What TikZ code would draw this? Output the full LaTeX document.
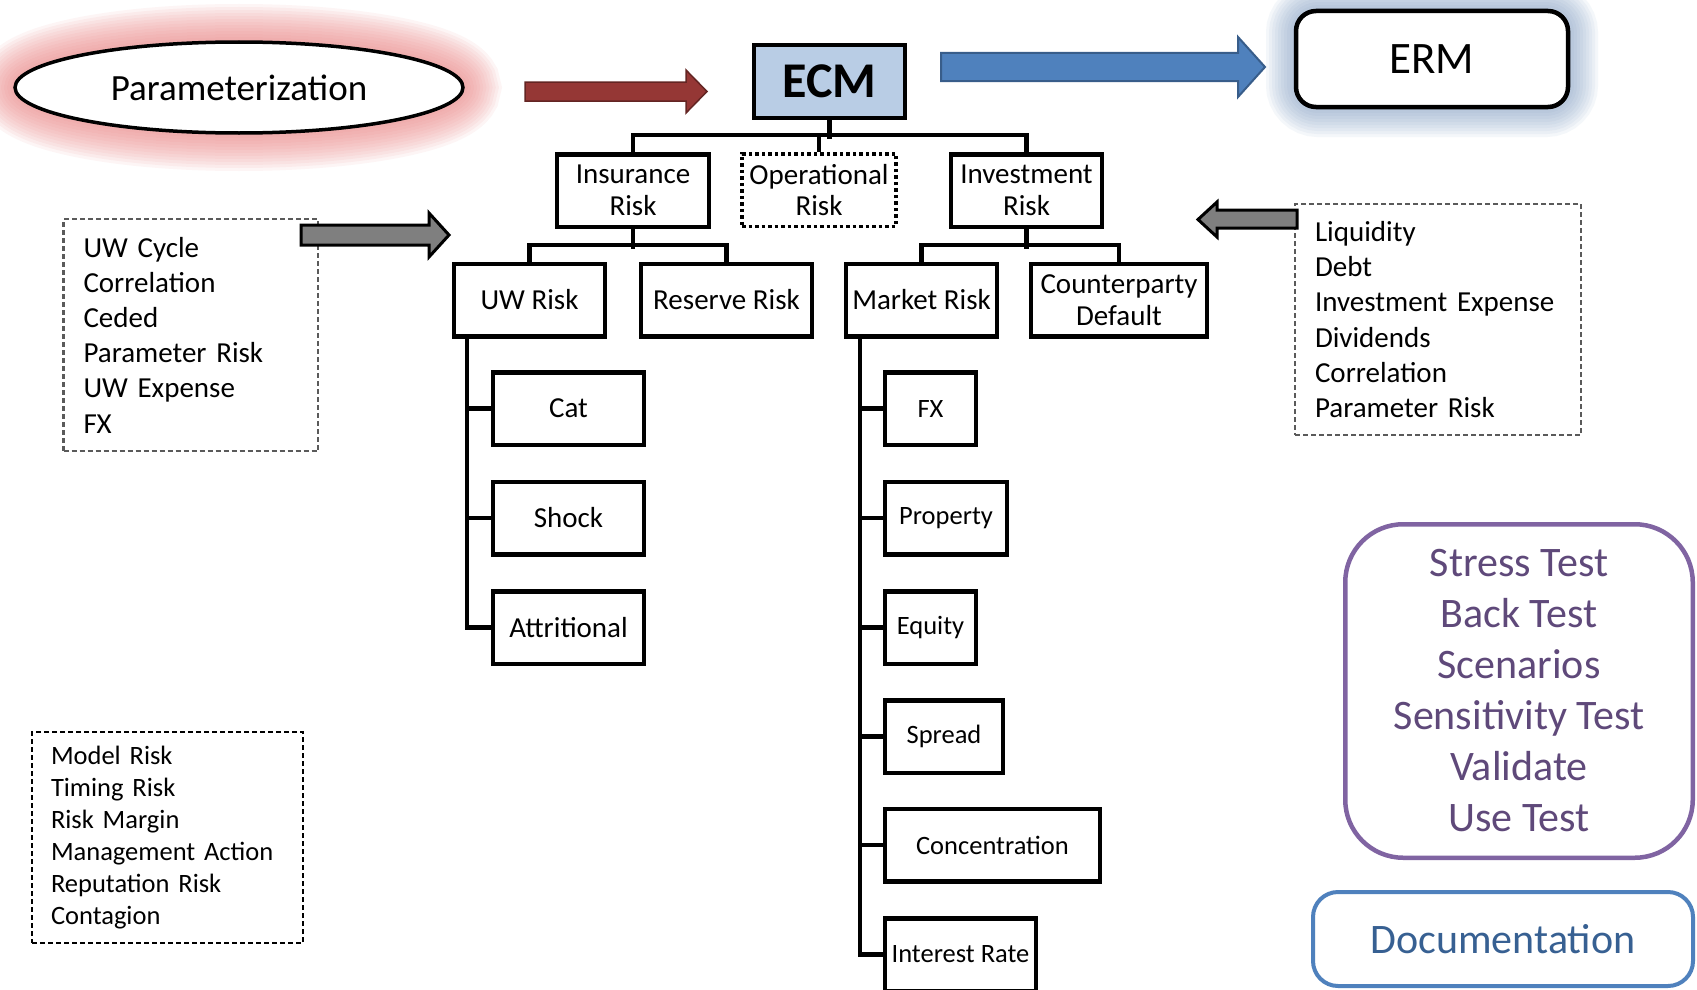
\documentclass[tikz,border=0pt]{standalone}
\usepackage{fontspec}
\setmainfont{Carlito}
\usetikzlibrary{shapes.geometric}
\definecolor{ecmfill}{HTML}{B9CDE5}
\definecolor{redarrow}{HTML}{953735}
\definecolor{redborder}{HTML}{632523}
\definecolor{bluearrow}{HTML}{4F81BD}
\definecolor{blueborder}{HTML}{385D8A}
\definecolor{purpleborder}{HTML}{8064A2}
\definecolor{purpletext}{HTML}{5F497A}
\definecolor{doctext}{HTML}{376092}
\definecolor{pinkglow}{HTML}{EE8C8C}
\definecolor{blueglow}{HTML}{7F9CC2}
\definecolor{dashgray}{HTML}{5A5A5A}
\definecolor{arrowgray}{HTML}{7F7F7F}
\newcommand\setfs[2]{\fontsize{#1}{#2}\selectfont}
\begin{document}
\begin{tikzpicture}[x=1pt,y=-1pt,
  box/.style={draw,line width=4.5pt,fill=white,align=center,inner sep=0pt,
    minimum height=72.5pt,font=\setfs{29}{31.4}},
  sbox/.style={box,font=\setfs{26.5}{30}},
  tree/.style={line width=4.5pt,line join=miter},
  listbox/.style={draw=dashgray,line width=2.2pt,dash pattern=on 5pt off 3pt,
    align=left,inner sep=0pt,font=\setfs{29}{35.2}},
  blockarrow/.style={line width=3pt,draw=black,fill=arrowgray,line join=miter}]
\fill[white] (0,0) rectangle (1697,990);
\useasboundingbox (0,0) rectangle (1697,990);

% glows
\foreach \w in {6,12,...,72}
  \draw[pinkglow,opacity=0.085,line width=\w pt] (239,87.5) ellipse [x radius=226pt, y radius=47.5pt];
\foreach \w in {6,12,...,60}
  \draw[blueglow,opacity=0.08,line width=\w pt,rounded corners=22pt] (1296,11) rectangle (1568,107);

\node[ellipse,draw,line width=3.5pt,fill=white,minimum width=448pt,minimum height=91pt,
  inner sep=0pt,font=\setfs{37}{37}] (param) at (239,87.5) {Parameterization};
\node[box,rounded corners=20pt,minimum width=272pt,minimum height=96pt,font=\setfs{45}{45}] (erm) at (1432,59) {ERM};

% tree nodes
\node[box,minimum width=151pt,fill=ecmfill,font=\bfseries\setfs{50}{50}] (ecm) at (829.5,81.5) {ECM};
\node[box,minimum width=152pt] (ins) at (633,190.5) {Insurance\\Risk};
\node[box,minimum width=154pt,line width=3.5pt,dash pattern=on 3.5pt off 3pt] (op) at (819,190) {Operational\\Risk};
\node[box,minimum width=151pt] (inv) at (1026.5,190.5) {Investment\\Risk};
\node[box,minimum width=151pt] (uw) at (529.5,300) {UW Risk};
\node[box,minimum width=171pt] (res) at (726.5,300) {Reserve Risk};
\node[box,minimum width=151pt] (mkt) at (921.5,300) {Market Risk};
\node[box,minimum width=176pt] (cpty) at (1119,300) {Counterparty\\Default};
\node[box,minimum width=151pt] (cat) at (568.5,408.5) {Cat};
\node[box,minimum width=151pt] (shock) at (568.5,518) {Shock};
\node[box,minimum width=151pt] (attr) at (568.5,627.5) {Attritional};
\node[sbox,minimum width=91pt] (fx) at (930.5,408.5) {FX};
\node[sbox,minimum width=122pt] (prop) at (946,518) {Property};
\node[sbox,minimum width=91pt] (eq) at (930.5,627.5) {Equity};
\node[sbox,minimum width=118pt] (spread) at (944,736.5) {Spread};
\node[sbox,minimum width=215pt] (conc) at (992.5,845) {Concentration};
\node[sbox,minimum width=151pt] (ir) at (960.5,954.5) {Interest Rate};

% tree connectors
\draw[tree] (ecm.south) -- ++(0,19);
\draw[tree] (ins.north) -- ++(0,-17) -| (inv.north);
\draw[tree] (op.north) -- ++(0,-17);
\draw[tree] (ins.south) -- ++(0,20);
\draw[tree] (uw.north) -- ++(0,-16.5) -| (res.north);
\draw[tree] (inv.south) -- ++(0,20);
\draw[tree] (mkt.north) -- ++(0,-16.5) -| (cpty.north);
\coordinate (uwsp) at ([xshift=15pt]uw.south west);
\coordinate (mksp) at ([xshift=16pt]mkt.south west);
\draw[tree] (uwsp) |- (attr.west);
\foreach \n in {cat,shock} \draw[tree] (uwsp |- \n.west) -- (\n.west);
\draw[tree] (mksp) |- (ir.west);
\foreach \n in {fx,prop,eq,spread,conc} \draw[tree] (mksp |- \n.west) -- (\n.west);

% block arrows
\draw[fill=redarrow,draw=redborder,line width=1.5pt,line join=miter]
  (525,82) -- (686,82) -- (686,70) -- (707,91.5) -- (686,113) -- (686,101) -- (525,101) -- cycle;
\draw[fill=bluearrow,draw=blueborder,line width=2pt,line join=miter]
  (941,53) -- (1238,53) -- (1238,37) -- (1265,67) -- (1238,97) -- (1238,81) -- (941,81) -- cycle;

% list boxes
\node[listbox,minimum width=254.5pt,minimum height=232pt,text width=214.5pt] (lst1) at (190.75,335)
  {UW Cycle\\Correlation\\Ceded\\Parameter Risk\\UW Expense\\FX};
\node[listbox,minimum width=286pt,minimum height=231pt,text width=246pt] (lst2) at (1438,319.5)
  {Liquidity\\Debt\\Investment Expense\\Dividends\\Correlation\\Parameter Risk};
\node[listbox,draw=black,minimum width=271pt,minimum height=211pt,text width=233pt,font=\setfs{26.5}{32}] (lst3) at (167.5,837.5)
  {Model Risk\\Timing Risk\\Risk Margin\\Management Action\\Reputation Risk\\Contagion};

\draw[blockarrow]
  (301,225) -- (429,225) -- (429,213) -- (449,235) -- (429,257) -- (429,245) -- (301,245) -- cycle;
\draw[blockarrow]
  (1297,210) -- (1217,210) -- (1217,202) -- (1198,219.5) -- (1217,237) -- (1217,228) -- (1297,228) -- cycle;

% validation boxes
\node[draw=purpleborder,line width=4.5pt,rounded corners=58pt,minimum width=347.5pt,minimum height=333.5pt,
  align=center,inner sep=0pt,text=purpletext,font=\setfs{42}{51}] (val) at (1519,691)
  {Stress Test\\Back Test\\Scenarios\\Sensitivity Test\\Validate\\Use Test};
\node[draw=bluearrow,line width=4pt,rounded corners=25pt,minimum width=380pt,minimum height=94pt,
  inner sep=0pt,text=doctext,font=\setfs{42}{42}] (doc) at (1503,939) {Documentation};
\end{tikzpicture}
\end{document}
